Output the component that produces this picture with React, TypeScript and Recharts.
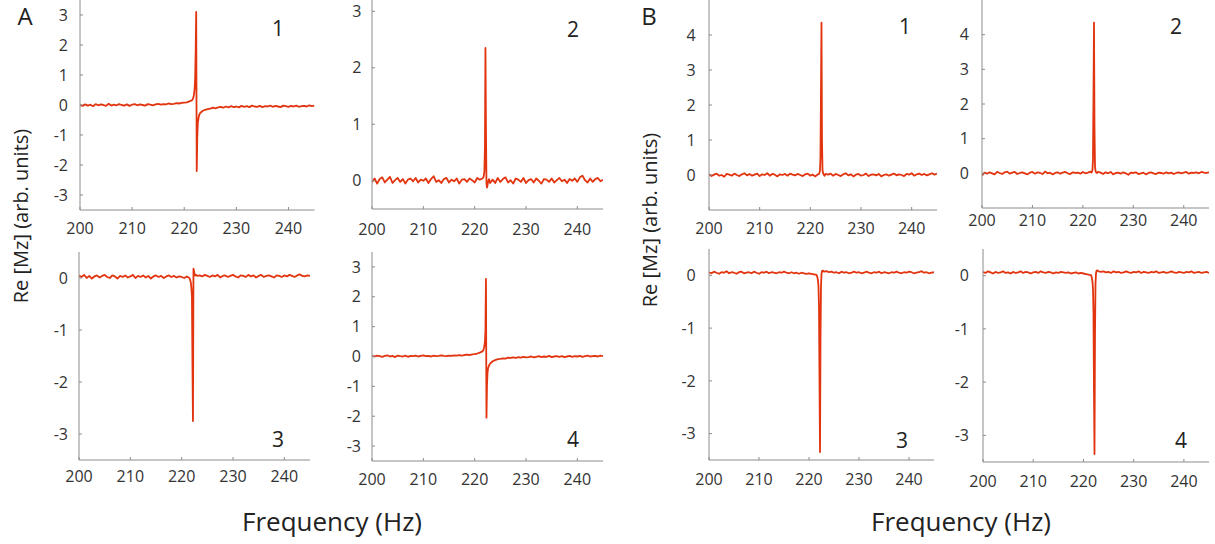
import React from 'react';
import { LineChart, Line, XAxis, YAxis } from 'recharts';

// Frequency axis (Hz): coarse away from the resonance, fine around it
const freqHz = [
  200, 200.5, 201, 201.5, 202, 202.5, 203, 203.5, 204, 204.5, 205, 205.5, 206, 206.5, 207, 207.5,
  208, 208.5, 209, 209.5, 210, 210.5, 211, 211.5, 212, 212.5, 213, 213.5, 214, 214.5, 215, 215.5,
  216, 216.5, 217, 217.5, 218, 218.5, 219, 219.5, 220, 220.5, 221, 221.5,
  221.7, 221.8, 221.9, 222.0, 222.1, 222.2, 222.3, 222.4, 222.5, 222.6, 222.8, 223.0,
  223.5, 224, 224.5, 225, 225.5, 226, 226.5, 227, 227.5, 228, 228.5, 229, 229.5, 230, 230.5, 231,
  231.5, 232, 232.5, 233, 233.5, 234, 234.5, 235, 235.5, 236, 236.5, 237, 237.5, 238, 238.5, 239,
  239.5, 240, 240.5, 241, 241.5, 242, 242.5, 243, 243.5, 244, 244.5, 245,
];

// Re[Mz] values, panel A
const panelA1 = [
  0.00, -0.03, 0.02, -0.02, 0.01, -0.04, 0.03, -0.01, 0.02, 0.00, -0.03, 0.04, -0.02, 0.01, -0.01, 0.03,
  0.00, -0.02, 0.02, -0.03, 0.01, 0.03, -0.01, 0.02, 0.00, -0.02, 0.03, 0.01, -0.01, 0.02, 0.04, 0.01,
  0.03, 0.02, 0.05, 0.03, 0.04, 0.06, 0.05, 0.07, 0.08, 0.09, 0.12, 0.16,
  0.22, 0.28, 0.38, 0.55, 0.9, 1.8, 3.1, -2.2, -1.1, -0.6, -0.38, -0.28,
  -0.2, -0.16, -0.14, -0.12, -0.09, -0.11, -0.08, -0.06, -0.09, -0.05, -0.08, -0.04, -0.07, -0.05, -0.08, -0.03,
  -0.06, -0.04, -0.07, -0.02, -0.05, -0.06, -0.03, -0.07, -0.04, -0.05, -0.02, -0.06, -0.03, -0.05, -0.07, -0.02,
  -0.04, -0.06, -0.03, -0.05, -0.02, -0.06, -0.04, -0.03, -0.05, -0.01, -0.04, -0.02,
];
const panelA2 = [
  -0.02, 0.04, -0.05, 0.03, 0.06, -0.03, 0.02, 0.07, -0.04, 0.01, 0.05, -0.02, 0.03, -0.05, 0.02, 0.04,
  -0.01, 0.05, -0.03, 0.02, 0.00, 0.04, -0.04, 0.03, 0.08, -0.02, 0.01, -0.04, 0.03, 0.05, -0.03, 0.02,
  -0.01, 0.04, -0.05, 0.02, 0.03, -0.02, 0.04, 0.01, -0.03, 0.05, 0.02, 0.04,
  0.06, 0.1, 0.18, 0.6, 2.35, 0.9, -0.05, -0.12, -0.08, -0.02, 0.03, -0.04,
  0.02, -0.04, 0.05, -0.02, 0.03, 0.06, -0.03, 0.01, -0.05, 0.04, 0.02, -0.02, 0.05, -0.04, 0.01, 0.03,
  -0.03, 0.04, 0.00, -0.05, 0.03, 0.02, -0.02, 0.04, -0.03, 0.01, 0.05, -0.01, 0.02, -0.04, 0.03, 0.00,
  0.04, -0.02, 0.06, 0.09, 0.01, -0.03, 0.04, -0.02, 0.03, 0.05, -0.01, 0.02,
];
const panelA3 = [
  0.05, 0.02, 0.06, 0.00, 0.04, -0.01, 0.03, 0.05, 0.01, 0.04, 0.06, 0.02, 0.00, 0.05, 0.03, -0.01,
  0.04, 0.02, 0.05, 0.01, 0.03, 0.06, 0.00, 0.04, 0.02, 0.05, 0.01, 0.04, -0.01, 0.03, 0.05, 0.02,
  0.04, 0.00, 0.03, 0.05, 0.02, 0.04, 0.01, 0.03, 0.02, 0.00, 0.03, 0.00,
  -0.05, -0.1, -0.2, -0.35, -1.6, -2.75, 0.18, 0.14, 0.08, 0.05, 0.06, 0.04,
  0.05, 0.03, 0.06, 0.04, 0.02, 0.05, 0.03, 0.06, 0.01, 0.04, 0.05, 0.02, 0.04, 0.06, 0.03, 0.01,
  0.05, 0.04, 0.02, 0.06, 0.03, 0.05, 0.01, 0.04, 0.06, 0.02, 0.04, 0.05, 0.03, 0.01, 0.05, 0.04,
  0.02, 0.05, 0.03, 0.06, 0.04, 0.02, 0.05, 0.07, 0.04, 0.03, 0.05, 0.04,
];
const panelA4 = [
  0.02, 0.00, 0.03, 0.01, -0.01, 0.02, 0.04, 0.00, 0.02, -0.02, 0.03, 0.01, 0.00, 0.03, -0.01, 0.02,
  0.01, 0.03, 0.00, 0.02, 0.04, 0.01, 0.02, 0.00, 0.03, 0.01, 0.02, 0.04, 0.02, 0.01, 0.03, 0.02,
  0.04, 0.03, 0.05, 0.03, 0.05, 0.06, 0.05, 0.07, 0.08, 0.1, 0.13, 0.17,
  0.22, 0.28, 0.36, 0.5, 0.85, 2.6, -2.05, -0.95, -0.55, -0.4, -0.3, -0.24,
  -0.16, -0.12, -0.09, -0.08, -0.06, -0.07, -0.04, -0.05, -0.03, -0.05, -0.02, -0.04, -0.01, -0.03, -0.02, 0.00,
  -0.03, -0.01, 0.01, -0.02, 0.00, -0.01, 0.02, -0.02, 0.00, 0.01, -0.01, 0.01, -0.02, 0.00, 0.02, -0.01,
  0.01, 0.00, 0.02, -0.01, 0.01, 0.03, 0.00, 0.01, 0.02, 0.00, 0.03, 0.01,
];

// Re[Mz] values, panel B
const panelB1 = [
  0.02, -0.03, 0.01, 0.04, -0.02, 0.00, -0.05, 0.03, 0.01, -0.02, 0.04, 0.00, -0.03, 0.02, 0.05, -0.01,
  0.03, -0.02, 0.01, 0.04, -0.03, 0.02, 0.00, 0.05, -0.02, 0.03, 0.01, -0.04, 0.02, 0.00, 0.03, -0.02,
  0.04, 0.01, -0.01, 0.03, 0.00, -0.03, 0.02, 0.04, -0.02, 0.01, -0.04, 0.02,
  0.03, 0.06, 0.12, 0.5, 2.4, 4.35, 1.0, 0.15, 0.06, 0.02, -0.02, 0.03,
  0.01, 0.04, -0.02, 0.03, 0.00, -0.03, 0.02, 0.05, -0.01, 0.02, -0.04, 0.01, 0.03, -0.02, 0.00, 0.04,
  -0.03, 0.01, 0.02, -0.01, 0.03, -0.04, 0.00, 0.02, -0.02, 0.01, 0.04, -0.01, 0.02, 0.00, -0.03, 0.03,
  0.01, 0.05, -0.02, 0.02, 0.04, 0.00, 0.03, -0.01, 0.02, 0.05, 0.01, 0.04,
];
const panelB2 = [
  -0.06, 0.02, -0.01, 0.03, 0.00, -0.03, 0.04, 0.01, -0.02, 0.03, 0.05, -0.01, 0.02, 0.04, -0.02, 0.01,
  0.03, 0.00, -0.03, 0.02, 0.04, -0.01, 0.03, 0.01, -0.02, 0.05, 0.00, 0.02, -0.03, 0.01, 0.03, -0.01,
  0.02, 0.04, 0.00, -0.02, 0.03, 0.01, 0.02, -0.01, 0.04, 0.00, 0.02, 0.05,
  0.02, 0.05, 0.1, 0.4, 2.2, 4.35, 1.3, 0.2, 0.07, 0.03, 0.01, 0.04,
  0.02, -0.02, 0.03, 0.00, 0.04, -0.03, 0.01, 0.02, -0.01, 0.03, 0.00, -0.04, 0.02, 0.01, 0.03, -0.02,
  0.00, 0.02, -0.03, 0.01, 0.03, 0.00, -0.02, 0.02, 0.01, -0.01, 0.03, 0.00, 0.02, -0.02, 0.01, 0.03,
  0.00, 0.02, 0.04, -0.01, 0.02, 0.01, 0.03, 0.00, 0.04, 0.02, 0.01, 0.03,
];
const panelB3 = [
  0.06, 0.04, 0.07, 0.05, 0.03, 0.06, 0.05, 0.08, 0.04, 0.06, 0.05, 0.03, 0.06, 0.07, 0.04, 0.05,
  0.06, 0.04, 0.07, 0.05, 0.03, 0.06, 0.05, 0.07, 0.04, 0.06, 0.05, 0.04, 0.06, 0.05, 0.07, 0.05,
  0.04, 0.06, 0.04, 0.05, 0.03, 0.05, 0.04, 0.03, 0.04, 0.03, 0.02, 0.01,
  -0.04, -0.1, -0.22, -0.6, -2.0, -3.35, -1.2, -0.2, 0.02, 0.08, 0.09, 0.07,
  0.08, 0.06, 0.07, 0.05, 0.06, 0.04, 0.07, 0.05, 0.06, 0.04, 0.05, 0.07, 0.05, 0.06, 0.04, 0.05,
  0.07, 0.05, 0.04, 0.06, 0.05, 0.07, 0.04, 0.06, 0.05, 0.04, 0.06, 0.05, 0.07, 0.05, 0.04, 0.06,
  0.05, 0.07, 0.06, 0.04, 0.05, 0.06, 0.08, 0.05, 0.06, 0.04, 0.05, 0.06,
];
const panelB4 = [
  0.07, 0.05, 0.08, 0.06, 0.04, 0.07, 0.05, 0.06, 0.08, 0.05, 0.06, 0.04, 0.07, 0.05, 0.06, 0.08,
  0.05, 0.07, 0.06, 0.04, 0.06, 0.07, 0.05, 0.08, 0.06, 0.05, 0.07, 0.06, 0.04, 0.06, 0.05, 0.07,
  0.06, 0.05, 0.06, 0.04, 0.05, 0.06, 0.04, 0.05, 0.04, 0.03, 0.02, 0.01,
  -0.05, -0.12, -0.25, -0.7, -2.2, -3.35, -1.1, -0.15, 0.04, 0.09, 0.1, 0.08,
  0.07, 0.08, 0.06, 0.07, 0.05, 0.08, 0.06, 0.07, 0.05, 0.06, 0.08, 0.06, 0.05, 0.07, 0.06, 0.08,
  0.05, 0.07, 0.06, 0.05, 0.07, 0.06, 0.08, 0.05, 0.06, 0.07, 0.05, 0.06, 0.08, 0.06, 0.05, 0.07,
  0.06, 0.05, 0.07, 0.06, 0.08, 0.05, 0.06, 0.07, 0.05, 0.06, 0.07, 0.05,
];

// Tick labels
const freqTicks = [200, 210, 220, 230, 240];
const ticksSym = [-3, -2, -1, 0, 1, 2, 3];
const ticksA2 = [0, 1, 2, 3];
const ticksNeg = [-3, -2, -1, 0];
const ticksB = [0, 1, 2, 3, 4];

const LINE_COLOR = '#e2340f';
const FRAME = '#8c8c8c';
const TEXT = '#333333';
const FONT = "'Open Sans', 'DejaVu Sans', sans-serif";

type PanelProps = {
  l: number; t: number; r: number; b: number;
  values: number[];
  yDomain: [number, number];
  yTicks: number[];
  yGap: number;
  xGap: number;
};

function Panel({ l, t, r, b, values, yDomain, yTicks, yGap, xGap }: PanelProps) {
  const YW = 50;
  const XH = 36;
  const MT = 2;
  const MR = 2;
  const w = YW + (r - l) + MR;
  const h = MT + (b - t) + XH;
  const rows = freqHz.map((f, i) => ({ f, v: values[i] }));
  const tickStyle = { fill: TEXT, fontSize: 16, fontFamily: FONT };
  return (
    <div style={{ position: 'absolute', left: l - YW, top: t - MT }}>
      <LineChart width={w} height={h} data={rows} margin={{ top: MT, right: MR, bottom: 0, left: 0 }}>
        <XAxis
          dataKey="f" type="number" domain={[200, 245]} ticks={freqTicks} allowDataOverflow
          height={XH} tickSize={-3} tickMargin={3 + xGap} stroke={FRAME} tick={tickStyle} interval={0}
        />
        <XAxis
          xAxisId="top" orientation="top" dataKey="f" type="number" domain={[200, 245]} ticks={freqTicks}
          allowDataOverflow height={0} tickSize={-3} tick={false} stroke={FRAME} interval={0}
        />
        <YAxis
          type="number" domain={yDomain} ticks={yTicks} allowDataOverflow width={YW}
          tickSize={-3} tickMargin={3 + yGap} stroke={FRAME} tick={tickStyle} interval={0}
        />
        <YAxis
          yAxisId="right" orientation="right" type="number" domain={yDomain} ticks={yTicks}
          allowDataOverflow width={0} tickSize={-3} tick={false} stroke={FRAME} interval={0}
        />
        <Line
          dataKey="v" type="linear" stroke={LINE_COLOR} strokeWidth={1.8} dot={false}
          isAnimationActive={false} strokeLinejoin="round"
        />
      </LineChart>
    </div>
  );
}

function Label({ x, y, text, size, rotate }: { x: number; y: number; text: string; size: number; rotate?: boolean }) {
  return (
    <div
      style={{
        position: 'absolute', left: x, top: y, fontFamily: FONT, fontSize: size, color: '#222',
        whiteSpace: 'nowrap', lineHeight: 1,
        transform: `translate(-50%, -50%)${rotate ? ' rotate(-90deg)' : ''}`,
      }}
    >
      {text}
    </div>
  );
}

export default function App() {
  return (
    <div style={{ position: 'absolute', left: 0, top: 0, width: 1215, height: 544, background: '#fff', overflow: 'hidden' }}>
      <Panel l={79.5} t={0} r={314} b={210} values={panelA1} yDomain={[-3.5, 3.5]} yTicks={ticksSym} yGap={12} xGap={12.7} />
      <Panel l={372} t={0} r={603} b={209} values={panelA2} yDomain={[-0.5, 3.2]} yTicks={ticksA2} yGap={10.6} xGap={14.3} />
      <Panel l={79} t={252} r={310} b={460} values={panelA3} yDomain={[-3.5, 0.5]} yTicks={ticksNeg} yGap={11} xGap={11} />
      <Panel l={372} t={252} r={603} b={461} values={panelA4} yDomain={[-3.5, 3.5]} yTicks={ticksSym} yGap={11} xGap={12.3} />
      <Panel l={709} t={0} r={937} b={210} values={panelB1} yDomain={[-1, 5]} yTicks={ticksB} yGap={13.3} xGap={12.7} />
      <Panel l={982} t={0} r={1209} b={208} values={panelB2} yDomain={[-1, 5]} yTicks={ticksB} yGap={13} xGap={6.3} />
      <Panel l={709} t={249} r={934} b={460} values={panelB3} yDomain={[-3.5, 0.5]} yTicks={ticksNeg} yGap={13.3} xGap={13.3} />
      <Panel l={983} t={249} r={1209} b={462} values={panelB4} yDomain={[-3.5, 0.5]} yTicks={ticksNeg} yGap={14} xGap={13.3} />

      <Label x={25} y={16} text="A" size={24} />
      <Label x={649} y={16} text="B" size={24} />

      <Label x={278} y={28} text="1" size={21} />
      <Label x={573} y={29} text="2" size={21} />
      <Label x={278} y={439} text="3" size={21} />
      <Label x={573} y={439} text="4" size={21} />
      <Label x={905} y={26} text="1" size={21} />
      <Label x={1176} y={26} text="2" size={21} />
      <Label x={902} y={440} text="3" size={21} />
      <Label x={1181} y={440} text="4" size={21} />

      <Label x={21} y={216} text="Re [Mz] (arb. units)" size={20} rotate />
      <Label x={650} y={220} text="Re [Mz] (arb. units)" size={20} rotate />
      <Label x={332} y={521} text="Frequency (Hz)" size={26} />
      <Label x={961} y={521} text="Frequency (Hz)" size={26} />
    </div>
  );
}
